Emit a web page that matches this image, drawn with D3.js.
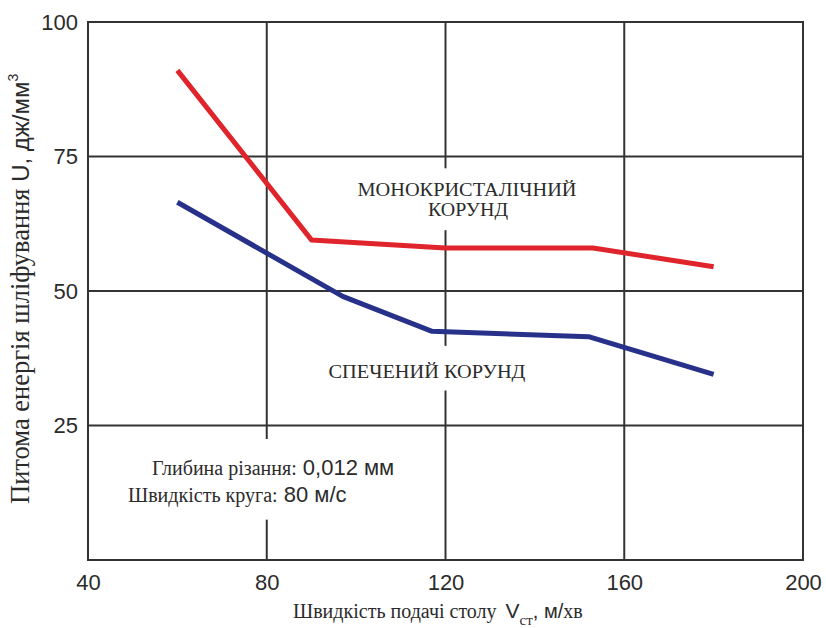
<!DOCTYPE html>
<html>
<head>
<meta charset="utf-8">
<script src="https://cdn.jsdelivr.net/npm/d3@7"></script>
<style>
  body { margin: 0; background: #fff; }
  svg { display: block; }
</style>
</head>
<body>
<div id="chart"></div>
<script>
// Specific grinding energy vs table feed speed

const xTicks = [40, 80, 120, 160, 200];
const yTicks = [25, 50, 75, 100];

// монокристалічний корунд (red)
const monoX = [60, 90, 120, 153, 180];
const monoY = [91, 59.5, 58, 58, 54.5];

// спечений корунд (blue)
const sinterX = [60, 97, 117, 152, 180];
const sinterY = [66.5, 49, 42.5, 41.5, 34.5];

// gaps in the vertical grid lines (value units), left free for the labels
const gridGaps = { 80: [[7.5, 22.5]], 120: [[61.3, 72.8], [31.5, 39.8]] };

const SERIF = '"Liberation Serif", "DejaVu Serif", serif';
const SANS = '"Liberation Sans", Arial, sans-serif';
const INK = '#2b2b2b';

const W = 826, H = 628;
const svg = d3.select('#chart').append('svg').attr('width', W).attr('height', H);

const x = d3.scaleLinear().domain([40, 200]).range([88, 803]);
const y = d3.scaleLinear().domain([0, 100]).range([560, 22]);

const gridColor = '#333';

// horizontal grid
svg.append('g').selectAll('line')
  .data(yTicks.slice(0, -1)).join('line')
  .attr('x1', x(40)).attr('x2', x(200))
  .attr('y1', d => y(d)).attr('y2', d => y(d))
  .attr('stroke', gridColor).attr('stroke-width', 2);

// vertical grid, split around the text
const segs = [];
xTicks.slice(1, -1).forEach(t => {
  let lo = 0;
  const gaps = (gridGaps[t] || []).slice().sort((a, b) => a[0] - b[0]);
  gaps.forEach(g => { segs.push({ t, a: lo, b: g[0] }); lo = g[1]; });
  segs.push({ t, a: lo, b: 100 });
});
svg.append('g').selectAll('line')
  .data(segs).join('line')
  .attr('x1', d => x(d.t)).attr('x2', d => x(d.t))
  .attr('y1', d => y(d.a)).attr('y2', d => y(d.b))
  .attr('stroke', gridColor).attr('stroke-width', 2);

// frame
svg.append('rect')
  .attr('x', x(40)).attr('y', y(100))
  .attr('width', x(200) - x(40)).attr('height', y(0) - y(100))
  .attr('fill', 'none').attr('stroke', gridColor).attr('stroke-width', 2);

// axes (labels only)
const xAxis = svg.append('g')
  .attr('transform', `translate(0,${y(0)})`)
  .call(d3.axisBottom(x).tickValues(xTicks).tickSize(0).tickPadding(14));
const yAxis = svg.append('g')
  .attr('transform', `translate(${x(40)},0)`)
  .call(d3.axisLeft(y).tickValues(yTicks).tickSize(0).tickPadding(10));
[xAxis, yAxis].forEach(a => {
  a.select('.domain').remove();
  a.attr('font-family', SANS).attr('font-size', 22);
  a.selectAll('text').attr('fill', INK);
});

// lines
const line = d3.line().x(d => x(d[0])).y(d => y(d[1]));
const series = [
  { pts: d3.zip(monoX, monoY), color: '#e0242b' },
  { pts: d3.zip(sinterX, sinterY), color: '#27318a' },
];
svg.append('g').selectAll('path')
  .data(series).join('path')
  .attr('d', d => line(d.pts))
  .attr('fill', 'none')
  .attr('stroke', d => d.color)
  .attr('stroke-width', 5)
  .attr('stroke-linejoin', 'round');

// series labels
const label = (tx, ty, len, s) => svg.append('text')
  .attr('x', tx).attr('y', ty).attr('text-anchor', 'middle')
  .attr('font-family', SERIF).attr('font-size', 19).attr('fill', INK)
  .attr('textLength', len).attr('lengthAdjust', 'spacingAndGlyphs')
  .text(s);
label(467, 196, 219, 'МОНОКРИСТАЛІЧНИЙ');
label(468, 216, 80, 'КОРУНД');
label(427, 378, 197, 'СПЕЧЕНИЙ КОРУНД');

// conditions note
const note = [
  { x: 152, y: 475, a: 'Глибина різання:', b: ' 0,012 мм' },
  { x: 128, y: 502, a: 'Швидкість круга:', b: ' 80 м/с' },
];
note.forEach(n => {
  const t = svg.append('text').attr('x', n.x).attr('y', n.y).attr('fill', INK);
  t.append('tspan').attr('font-family', SERIF).attr('font-size', 20).text(n.a);
  t.append('tspan').attr('font-family', SANS).attr('font-size', 22).text(n.b);
});

// x title
const xt = svg.append('text').attr('x', 293).attr('y', 618).attr('fill', INK);
xt.append('tspan').attr('font-family', SERIF).attr('font-size', 20).text('Швидкість подачі столу ');
xt.append('tspan').attr('font-family', SANS).attr('font-size', 21).attr('dx', 4).text('V');
xt.append('tspan').attr('font-family', SERIF).attr('font-size', 15).attr('dy', 7).text('ст');
xt.append('tspan').attr('font-family', SANS).attr('font-size', 20).attr('dy', -7).text(', м/');
xt.append('tspan').attr('font-family', SERIF).attr('font-size', 20).text('хв');

// y title
const yt = svg.append('text')
  .attr('transform', 'translate(29,504) rotate(-90)').attr('fill', INK);
yt.append('tspan').attr('font-family', SERIF).attr('font-size', 26.5).text('Питома енергія шліфування ');
yt.append('tspan').attr('font-family', SANS).attr('font-size', 24).text('U, дж/мм');
yt.append('tspan').attr('font-family', SANS).attr('font-size', 14).attr('dy', -11).text('3');
</script>
</body>
</html>
